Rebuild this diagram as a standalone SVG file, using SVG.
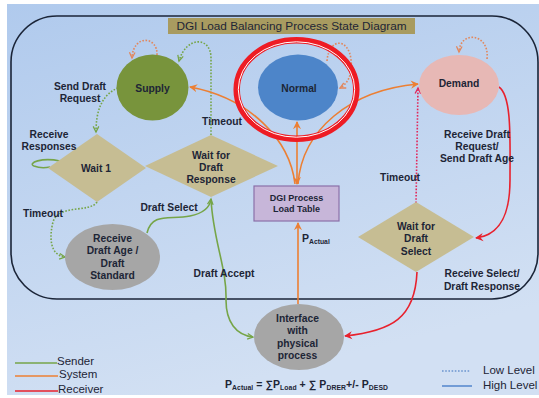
<svg xmlns="http://www.w3.org/2000/svg" width="539" height="398" viewBox="0 0 539 398">
  <defs>
    <linearGradient id="bg" x1="0" y1="0" x2="0.35" y2="1">
      <stop offset="0" stop-color="#b0caed"/>
      <stop offset="1" stop-color="#d2e0f3"/>
    </linearGradient>
    <marker id="ah-g" viewBox="0 0 10 10" refX="8" refY="5" markerWidth="8" markerHeight="8" markerUnits="userSpaceOnUse" orient="auto-start-reverse">
      <path d="M1,1.5 L8,5 L1,8.5" fill="none" stroke="#76a548" stroke-width="1.6"/>
    </marker>
    <marker id="ah-o" viewBox="0 0 10 10" refX="8" refY="5" markerWidth="9" markerHeight="9" markerUnits="userSpaceOnUse" orient="auto-start-reverse">
      <path d="M0,0.5 L9,5 L0,9.5 L3,5 Z" fill="#ec7f33"/>
    </marker>
    <marker id="ah-od" viewBox="0 0 10 10" refX="8" refY="5" markerWidth="8" markerHeight="8" markerUnits="userSpaceOnUse" orient="auto-start-reverse">
      <path d="M1,1.5 L8,5 L1,8.5" fill="none" stroke="#e2875c" stroke-width="1.6"/>
    </marker>
    <marker id="ah-r" viewBox="0 0 10 10" refX="8" refY="5" markerWidth="9" markerHeight="9" markerUnits="userSpaceOnUse" orient="auto-start-reverse">
      <path d="M0,0.5 L9,5 L0,9.5 L3,5 Z" fill="#e8212d"/>
    </marker>
    <marker id="ah-rd" viewBox="0 0 10 10" refX="8" refY="5" markerWidth="8" markerHeight="8" markerUnits="userSpaceOnUse" orient="auto-start-reverse">
      <path d="M1,1.5 L8,5 L1,8.5" fill="none" stroke="#e2265a" stroke-width="1.6"/>
    </marker>
  </defs>
  <style>
    text { font-family: "Liberation Sans", Arial, sans-serif; fill: #1d2536; }
    .b { font-weight: bold; font-size: 10.3px; text-anchor: middle; }
    .tbl { font-weight: bold; font-size: 9px; text-anchor: middle; }
    .leg { font-size: 11.5px; }
    .title { font-size: 11.8px; text-anchor: middle; }
    .ln { fill: none; stroke-width: 1.6; }
    .g { stroke: #76a548; }
    .o { stroke: #ec7f33; }
    .r { stroke: #e8212d; }
    .dot { stroke-dasharray: 1.6 1.6; }
    .gd { stroke: #76a548; }
    .od { stroke: #e2875c; }
    .rd { stroke: #e2265a; }
    .state { stroke: none; }
  </style>

  <!-- backdrop -->
  <rect x="0" y="0" width="539" height="398" fill="#ffffff"/>
  <rect x="7" y="4" width="532" height="391" fill="url(#bg)"/>

  <!-- controller boundary -->
  <rect x="11" y="16" width="527" height="283" rx="46" ry="46" fill="none" stroke="#1b2538" stroke-width="1.6"/>

  <!-- title -->
  <g id="title">
    <rect x="168" y="18" width="247" height="16" fill="#a89b60"/>
    <text class="title" x="291.5" y="30">DGI Load Balancing Process State Diagram</text>
  </g>

  <!-- connectors -->
  <g id="connectors">
    <!-- sender (green) -->
    <path class="ln gd dot" d="M157,55 C158,36 133,34 132,58" marker-end="url(#ah-od)" style="stroke:#e2875c"/>
    <path class="ln gd dot" d="M211,135 L211,58 C211,36 186,36 179,61" marker-end="url(#ah-g)"/>
    <path class="ln gd dot" d="M118,88 C101,95 96,112 96,132" marker-end="url(#ah-g)"/>
    <path class="ln g" d="M60,161 C42,157 27,163 34,166 C39,168 45,168 50,167"/>
    <path class="ln gd dot" d="M97,202 C90,213 58,204 53,222 C49,238 50,255 65,257" marker-end="url(#ah-g)"/>
    <path class="ln g" d="M147,233 C152,212 170,220 190,216 C205,213 210,207 211,199" marker-end="url(#ah-g)"/>
    <path class="ln g" d="M211,199 C213,240 227,268 226,300 C226,322 236,335 253,337" marker-end="url(#ah-g)"/>

    <!-- system (orange) -->
    <path class="ln od dot" d="M327,61 C329,37 349,38 351,60 C353,76 346,85 340,88" marker-end="url(#ah-od)"/>
    <path class="ln od dot" d="M487,59 C490,33 460,30 459,52" marker-end="url(#ah-od)"/>
    <path class="ln o" d="M295,184 C290,140 250,98 190,87" marker-end="url(#ah-o)"/>
    <path class="ln o" d="M298,184 C302,130 350,90 418,84" marker-end="url(#ah-o)"/>
    <path class="ln o" d="M297,184 L297,122" marker-start="url(#ah-o)" marker-end="url(#ah-o)"/>
    <path class="ln o" d="M298,304 L298,223" marker-end="url(#ah-o)"/>

    <!-- receiver (red) -->
    <path class="ln r" d="M499,87 C512,96 510,140 510,180 C510,215 500,235 476,238" marker-end="url(#ah-r)"/>
    <path class="ln r" d="M417,272 C415,318 392,331 345,336" marker-end="url(#ah-r)"/>
    <path class="ln rd dot" d="M416,203 L418,88" marker-end="url(#ah-rd)"/>
  </g>

  <!-- states -->
  <g id="supply">
    <ellipse cx="152.5" cy="87.5" rx="36" ry="33" fill="#78943c"/>
    <text class="b" x="152.5" y="91.7">Supply</text>
  </g>

  <g id="normal">
    <ellipse cx="298" cy="87.5" rx="40" ry="33" fill="#4d85c9"/>
    <text class="b" x="299" y="91.7">Normal</text>
    <ellipse cx="296.5" cy="89.5" rx="59.8" ry="49.3" fill="none" stroke="#ee1c24" stroke-width="6.5"/>
    <ellipse cx="296.5" cy="89.5" rx="58.2" ry="47.7" fill="none" stroke="#ffffff" stroke-width="1"/>
  </g>

  <g id="demand">
    <ellipse cx="459" cy="85" rx="40" ry="30" fill="#e7b8b5"/>
    <text class="b" x="459" y="87">Demand</text>
  </g>

  <g id="wait1">
    <polygon points="97,134 146,168 97,202 48,168" fill="#c6bd93"/>
    <text class="b" x="96" y="172">Wait 1</text>
  </g>

  <g id="wait-draft-response">
    <polygon points="211,135 278,166 211,197 145,166" fill="#c6bd93"/>
    <text class="b" x="211" y="158.7">Wait for</text>
    <text class="b" x="211" y="170.7">Draft</text>
    <text class="b" x="211" y="182.7">Response</text>
  </g>

  <g id="receive-draft-age">
    <ellipse cx="112.5" cy="257" rx="47.5" ry="33" fill="#a6a6a6"/>
    <text class="b" x="112.5" y="241.7">Receive</text>
    <text class="b" x="112.5" y="253.7">Draft Age /</text>
    <text class="b" x="112.5" y="266.7">Draft</text>
    <text class="b" x="112.5" y="278.7">Standard</text>
  </g>

  <g id="load-table">
    <rect x="254" y="186" width="85" height="35" fill="#c7b6d9" stroke="#8a70a8" stroke-width="1.2"/>
    <text class="tbl" x="296.5" y="201">DGI Process</text>
    <text class="tbl" x="296.5" y="212">Load Table</text>
  </g>

  <g id="wait-draft-select">
    <polygon points="416,202 474,237 416,272 358,237" fill="#c6bd93"/>
    <text class="b" x="416" y="229.7">Wait for</text>
    <text class="b" x="416" y="242.2">Draft</text>
    <text class="b" x="416" y="254.7">Select</text>
  </g>

  <g id="interface">
    <ellipse cx="299" cy="337" rx="45" ry="33" fill="#a6a6a6"/>
    <text class="b" x="297.5" y="321.7">Interface</text>
    <text class="b" x="297.5" y="334.2">with</text>
    <text class="b" x="297.5" y="346.7">physical</text>
    <text class="b" x="297.5" y="358.7">process</text>
  </g>

  <!-- transition labels -->
  <g id="labels">
    <text class="b" x="80" y="89.7">Send Draft</text>
    <text class="b" x="80" y="101.7">Request</text>
    <text class="b" x="49" y="137.7">Receive</text>
    <text class="b" x="49" y="149.7">Responses</text>
    <text class="b" x="222" y="124.7">Timeout</text>
    <text class="b" x="43" y="216.7">Timeout</text>
    <text class="b" x="169" y="210.7">Draft Select</text>
    <text class="b" x="224" y="276.7">Draft Accept</text>
    <text class="b" x="400" y="180.7">Timeout</text>
    <text class="b" x="477" y="137.7">Receive Draft</text>
    <text class="b" x="477" y="149.7">Request/</text>
    <text class="b" x="477" y="161.7">Send Draft Age</text>
    <text class="b" x="482" y="276.7">Receive Select/</text>
    <text class="b" x="482" y="289.7">Draft Response</text>
    <text x="302" y="242" style="font-weight:bold;font-size:10.5px">P<tspan style="font-size:6.8px" dy="1.5">Actual</tspan></text>
    <text x="225" y="388" textLength="163" lengthAdjust="spacing" style="font-weight:bold;font-size:10.5px">P<tspan style="font-size:6.8px" dy="1.5">Actual</tspan><tspan dy="-1.5"> = ∑P</tspan><tspan style="font-size:6.8px" dy="1.5">Load</tspan><tspan dy="-1.5"> + ∑ P</tspan><tspan style="font-size:6.8px" dy="1.5">DRER</tspan><tspan dy="-1.5">+/- P</tspan><tspan style="font-size:6.8px" dy="1.5">DESD</tspan></text>
  </g>

  <!-- legend -->
  <g id="legend">
    <line x1="15" y1="363" x2="57" y2="363" class="ln g"/>
    <text class="leg" x="57" y="365">Sender</text>
    <line x1="15" y1="376" x2="58" y2="376" class="ln o"/>
    <text class="leg" x="59" y="378">System</text>
    <line x1="15" y1="391" x2="58" y2="391" class="ln r"/>
    <text class="leg" x="58" y="393">Receiver</text>
    <line x1="442" y1="371" x2="470" y2="371" class="ln dot" stroke="#6b94cf" style="stroke-width:1.3"/>
    <text class="leg" x="483" y="374">Low Level</text>
    <line x1="442" y1="386" x2="472" y2="386" class="ln" stroke="#5a8bcf"/>
    <text class="leg" x="483" y="389">High Level</text>
  </g>
</svg>
